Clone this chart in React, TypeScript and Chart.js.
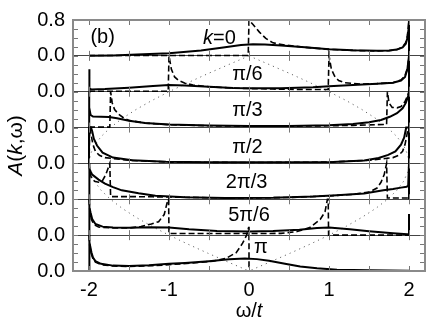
import React, { useEffect, useRef } from 'react';
import { Chart, registerables } from 'chart.js';

Chart.register(...registerables);

type P = [number, number];

const FAMILY = '"Liberation Sans", Arial, Helvetica, sans-serif';
const PANEL_NAMES = ['k=0', 'π/6', 'π/3', 'π/2', '2π/3', '5π/6', 'π'];
const PANEL_HEIGHT = 0.8;
const X_TICKS = [-2, -1, 0, 1, 2];
const Y_TOP_LABEL = '0.8';
const Y_BASE_LABEL = '0.0';
const X_MIN = -2.2;
const X_MAX = 2.2;

// label positions inside each panel: [omega, A]
const LABEL_POS: P[] = [[-0.37, 0.38], [-0.02, 0.385], [-0.02, 0.39], [-0.02, 0.36], [-0.03, 0.385], [0, 0.43], [0.15, 0.52]];

// k = 0
const k0Solid: P[] = [[-2, 0], [-1.7, 0.01], [-1.4, 0.03], [-1, 0.06], [-0.6, 0.12], [-0.3, 0.19], [-0.1, 0.24], [0.05, 0.26], [0.2, 0.255], [0.4, 0.23], [0.7, 0.19], [1, 0.15], [1.3, 0.125], [1.6, 0.115], [1.75, 0.12], [1.85, 0.14], [1.92, 0.19], [1.96, 0.27], [1.98, 0.4], [1.995, 0.6], [2, 0.8], [2, 0]];
const k0Dashed: P[] = [[-2, 0.008], [-1, 0.008], [-0.01, 0.008], [0, 0.8], [0.05, 0.7], [0.13, 0.53], [0.21, 0.39], [0.3, 0.29], [0.45, 0.24], [0.7, 0.19], [1, 0.145], [1.3, 0.12], [1.6, 0.11], [1.75, 0.115], [1.85, 0.14], [1.92, 0.2], [1.96, 0.3], [1.98, 0.45], [2, 0.8]];

// k = pi/6
const k1Solid: P[] = [[-2, 0], [-2, 0.5], [-1.99, 0.07], [-1.97, 0.05], [-1.8, 0.06], [-1.5, 0.09], [-1.2, 0.13], [-1, 0.15], [-0.8, 0.14], [-0.5, 0.11], [-0.2, 0.085], [0, 0.08], [0.4, 0.08], [0.8, 0.1], [1, 0.12], [1.3, 0.15], [1.6, 0.18], [1.8, 0.2], [1.9, 0.25], [1.95, 0.33], [1.98, 0.5], [2, 0.8], [2, 0]];
const k1Dashed: P[] = [[-2, 0.01], [-1.01, 0.01], [-1, 0.8], [-0.97, 0.5], [-0.93, 0.33], [-0.88, 0.25], [-0.8, 0.19], [-0.7, 0.15], [-0.5, 0.11], [-0.2, 0.08], [0, 0.07], [0.3, 0.06], [0.6, 0.05], [0.99, 0.05], [1, 0.8], [1.03, 0.5], [1.07, 0.35], [1.12, 0.25], [1.2, 0.2], [1.4, 0.17], [1.6, 0.18], [1.8, 0.2], [1.9, 0.26], [1.95, 0.36], [1.98, 0.52], [2, 0.8]];

// k = pi/3
const k2Solid: P[] = [[-2, 0], [-2, 0.8], [-1.995, 0.45], [-1.98, 0.28], [-1.95, 0.245], [-1.85, 0.24], [-1.75, 0.235], [-1.65, 0.21], [-1.5, 0.15], [-1.3, 0.1], [-1, 0.07], [-0.5, 0.045], [0, 0.035], [0.5, 0.035], [1, 0.05], [1.3, 0.08], [1.5, 0.12], [1.65, 0.17], [1.76, 0.24], [1.85, 0.32], [1.92, 0.43], [1.96, 0.55], [1.99, 0.7], [2, 0.8], [2, 0]];
const k2Dashed: P[] = [[-2, 0.01], [-1.74, 0.01], [-1.73, 0.8], [-1.71, 0.55], [-1.68, 0.4], [-1.63, 0.3], [-1.57, 0.22], [-1.5, 0.16], [-1.3, 0.1], [-1, 0.065], [-0.5, 0.04], [0, 0.03], [0.5, 0.03], [1, 0.04], [1.3, 0.05], [1.5, 0.06], [1.72, 0.07], [1.73, 0.8], [1.75, 0.55], [1.79, 0.45], [1.85, 0.44], [1.9, 0.47], [1.95, 0.58], [1.98, 0.7], [2, 0.8]];

// k = pi/2
const k3Solid: P[] = [[-2, 0], [-2, 0.8], [-1.975, 0.8], [-1.96, 0.72], [-1.94, 0.55], [-1.9, 0.4], [-1.83, 0.24], [-1.7, 0.13], [-1.46, 0.07], [-1.04, 0.035], [-0.5, 0.025], [0, 0.025], [0.5, 0.025], [1.05, 0.03], [1.44, 0.065], [1.62, 0.12], [1.74, 0.19], [1.83, 0.27], [1.9, 0.42], [1.94, 0.58], [1.965, 0.8], [2, 0.8], [2, 0]];
const k3Dashed: P[] = [[-2, 0], [-1.99, 0.8], [-1.97, 0.6], [-1.95, 0.42], [-1.92, 0.27], [-1.87, 0.18], [-1.8, 0.13], [-1.7, 0.11], [-1.5, 0.07], [-1, 0.03], [0, 0.02], [1, 0.03], [1.5, 0.07], [1.7, 0.11], [1.8, 0.13], [1.87, 0.18], [1.92, 0.27], [1.95, 0.42], [1.97, 0.6], [1.99, 0.8]];

// k = 2pi/3
const k4Solid: P[] = [[-2, 0], [-2, 0.8], [-1.99, 0.68], [-1.98, 0.62], [-1.96, 0.55], [-1.88, 0.44], [-1.8, 0.35], [-1.7, 0.27], [-1.59, 0.2], [-1.38, 0.135], [-1.17, 0.08], [-0.8, 0.045], [-0.3, 0.03], [0.3, 0.035], [0.8, 0.06], [1.1, 0.09], [1.44, 0.13], [1.68, 0.2], [1.8, 0.23], [1.9, 0.26], [1.97, 0.28], [1.99, 0.3], [2, 0.8], [2, 0]];
const k4Dashed: P[] = [[-2, 0.8], [-1.99, 0.6], [-1.97, 0.48], [-1.93, 0.4], [-1.88, 0.38], [-1.83, 0.42], [-1.79, 0.55], [-1.76, 0.7], [-1.74, 0.8], [-1.73, 0.06], [-1.5, 0.06], [-1.2, 0.055], [-0.95, 0.05], [-0.5, 0.035], [0, 0.03], [0.5, 0.04], [1, 0.075], [1.3, 0.11], [1.5, 0.16], [1.6, 0.25], [1.65, 0.38], [1.69, 0.55], [1.72, 0.8], [1.73, 0.03], [2, 0.03]];

// k = 5pi/6
const k5Solid: P[] = [[-2, 0], [-2, 0.8], [-1.99, 0.62], [-1.98, 0.5], [-1.96, 0.36], [-1.92, 0.25], [-1.83, 0.19], [-1.7, 0.17], [-1.5, 0.165], [-1.25, 0.175], [-1, 0.17], [-0.75, 0.13], [-0.4, 0.095], [0, 0.08], [0.3, 0.09], [0.63, 0.12], [0.85, 0.16], [1, 0.17], [1.26, 0.13], [1.5, 0.085], [1.8, 0.04], [1.98, 0.02], [2, 0.02], [2, 0.47], [2, 0]];
const k5Dashed: P[] = [[-2, 0.8], [-1.99, 0.55], [-1.97, 0.35], [-1.94, 0.24], [-1.88, 0.18], [-1.7, 0.16], [-1.5, 0.16], [-1.35, 0.19], [-1.22, 0.25], [-1.13, 0.3], [-1.06, 0.46], [-1.02, 0.75], [-1.005, 0.8], [-1, 0.035], [-0.5, 0.035], [0, 0.035], [0.4, 0.04], [0.6, 0.08], [0.76, 0.17], [0.89, 0.35], [0.95, 0.52], [0.98, 0.8], [0.99, 0.8], [0.995, 0], [2, 0]];

// k = pi
const k6Solid: P[] = [[-2, 0], [-2, 0.8], [-1.99, 0.64], [-1.97, 0.42], [-1.95, 0.3], [-1.92, 0.22], [-1.85, 0.16], [-1.7, 0.12], [-1.5, 0.11], [-1.25, 0.13], [-1, 0.16], [-0.8, 0.18], [-0.5, 0.22], [-0.25, 0.26], [-0.05, 0.28], [0.1, 0.265], [0.25, 0.23], [0.45, 0.16], [0.64, 0.1], [0.85, 0.06], [1.1, 0.03], [1.5, 0.015], [2, 0.005]];
const k6Dashed: P[] = [[-2, 0.8], [-1.99, 0.55], [-1.97, 0.38], [-1.95, 0.27], [-1.92, 0.2], [-1.85, 0.14], [-1.7, 0.11], [-1.5, 0.1], [-1.2, 0.12], [-1, 0.14], [-0.7, 0.18], [-0.45, 0.22], [-0.29, 0.28], [-0.16, 0.41], [-0.08, 0.62], [-0.03, 0.8], [-0.005, 0.97], [0, 0.97], [0, 0], [2, 0]];

const SOLIDS = [k0Solid, k1Solid, k2Solid, k3Solid, k4Solid, k5Solid, k6Solid];
const DASHEDS = [k0Dashed, k1Dashed, k2Dashed, k3Dashed, k4Dashed, k5Dashed, k6Dashed];

// dispersion guide (dotted): |omega| and global height
const DOT_W = [0, 0.261, 0.518, 0.765, 1.0, 1.218, 1.414, 1.587, 1.732, 1.848, 1.932, 1.983, 2.0, 1.983, 1.932, 1.848, 1.732, 1.587, 1.414, 1.218, 1.0, 0.765, 0.518, 0.261, 0];
const DOT_Y = [4.8, 4.6, 4.4, 4.2, 4.0, 3.8, 3.6, 3.4, 3.2, 3.0, 2.8, 2.6, 2.4, 2.2, 2.0, 1.8, 1.6, 1.4, 1.2, 1.0, 0.8, 0.6, 0.4, 0.2, 0];

type Seg = { t: string; i?: boolean };

function drawRich(ctx: CanvasRenderingContext2D, segs: Seg[], x: number, y: number, size: number) {
  let total = 0;
  const widths = segs.map((s) => {
    ctx.font = `${s.i ? 'italic ' : ''}${size}px ${FAMILY}`;
    const w = ctx.measureText(s.t).width;
    total += w;
    return w;
  });
  let cx = x - total / 2;
  ctx.textAlign = 'left';
  ctx.textBaseline = 'middle';
  segs.forEach((s, j) => {
    ctx.font = `${s.i ? 'italic ' : ''}${size}px ${FAMILY}`;
    ctx.fillText(s.t, cx, y);
    cx += widths[j];
  });
}

const NP = PANEL_NAMES.length;
const offsetOf = (i: number) => (NP - 1 - i) * PANEL_HEIGHT;
const TOTAL_MAX = NP * PANEL_HEIGHT;

export default function App() {
  const ref = useRef<HTMLCanvasElement | null>(null);
  useEffect(() => {
    if (!ref.current) return;
    const datasets: any[] = [];
    SOLIDS.forEach((arr, i) => {
      datasets.push({
        data: arr.map(([w, a]) => ({ x: w, y: a + offsetOf(i) })),
        borderColor: '#000', borderWidth: 2, order: 0, pointRadius: 0, fill: false,
      });
    });
    DASHEDS.forEach((arr, i) => {
      datasets.push({
        data: arr.map(([w, a]) => ({ x: w, y: a + offsetOf(i) })),
        borderColor: '#000', borderWidth: 1.6, borderDash: [6, 3], order: 1, pointRadius: 0, fill: false,
      });
    });
    [-1, 1].forEach((sgn) => {
      datasets.push({
        data: DOT_W.map((w, j) => ({ x: sgn * w, y: DOT_Y[j] })),
        borderColor: '#666', borderWidth: 1, borderDash: [1.2, 4], order: 2, pointRadius: 0, fill: false,
      });
    });

    const decor = {
      id: 'decor',
      afterDraw(chart: any) {
        const ctx: CanvasRenderingContext2D = chart.ctx;
        const { left, right, top, bottom } = chart.chartArea;
        const xs = chart.scales.x;
        const ys = chart.scales.y;
        ctx.save();
        ctx.strokeStyle = '#777';
        ctx.lineWidth = 1;
        ctx.beginPath();
        for (let k = 0; k <= NP * 4; k++) {
          const py = Math.round(ys.getPixelForValue(k * 0.2)) + 0.5;
          ctx.moveTo(left, py); ctx.lineTo(left + 5, py);
          ctx.moveTo(right - 5, py); ctx.lineTo(right, py);
        }
        for (let b = 0; b <= NP; b++) {
          const py = ys.getPixelForValue(b * PANEL_HEIGHT);
          for (let j = 0; j <= 8; j++) {
            const px = Math.round(xs.getPixelForValue(-2 + j * 0.5)) + 0.5;
            if (b < NP) { ctx.moveTo(px, py); ctx.lineTo(px, py - 5); }
            if (b > 0) { ctx.moveTo(px, py); ctx.lineTo(px, py + 5); }
          }
        }
        ctx.stroke();
        ctx.strokeStyle = '#8a8a8a';
        ctx.lineWidth = 2;
        ctx.strokeRect(left, top, right - left, bottom - top);
        ctx.fillStyle = '#000';
        PANEL_NAMES.forEach((name, i) => {
          const [w, a] = LABEL_POS[i];
          const segs: Seg[] = name === 'k=0' ? [{ t: 'k', i: true }, { t: '=0' }] : [{ t: name }];
          drawRich(ctx, segs, xs.getPixelForValue(w), ys.getPixelForValue(a + offsetOf(i)), 20);
        });
        drawRich(ctx, [{ t: '(b)' }], xs.getPixelForValue(-1.83), ys.getPixelForValue(0.4 + offsetOf(0)), 20);
        drawRich(ctx, [{ t: 'ω/' }, { t: 't', i: true }], xs.getPixelForValue(0), 311, 20);
        ctx.save();
        ctx.translate(16, (top + bottom) / 2);
        ctx.rotate(-Math.PI / 2);
        drawRich(ctx, [{ t: 'A', i: true }, { t: '(' }, { t: 'k', i: true }, { t: ',ω)' }], 0, 0, 21);
        ctx.restore();
        ctx.restore();
      },
    };

    const chart = new Chart(ref.current, {
      type: 'line',
      data: { datasets },
      options: {
        responsive: false,
        animation: false,
        layout: { padding: { top: 9, right: 11, left: 0, bottom: 0 } },
        plugins: { legend: { display: false }, tooltip: { enabled: false } },
        elements: { point: { radius: 0 }, line: { tension: 0 } },
        scales: {
          x: {
            type: 'linear', min: X_MIN, max: X_MAX,
            afterBuildTicks: (s: any) => { s.ticks = X_TICKS.map((v) => ({ value: v })); },
            afterFit: (s: any) => { s.height = 61; },
            ticks: { color: '#000', padding: 7, font: { family: FAMILY, size: 20 }, callback: (v: any) => String(v), maxRotation: 0, autoSkip: false },
            grid: { display: false, drawTicks: false },
            border: { display: false },
          },
          y: {
            type: 'linear', min: 0, max: TOTAL_MAX,
            afterBuildTicks: (s: any) => {
              const t: any[] = [];
              for (let i = 0; i <= NP; i++) t.push({ value: i * PANEL_HEIGHT });
              s.ticks = t;
            },
            afterFit: (s: any) => { s.width = 73; },
            ticks: {
              color: '#000', padding: 8, font: { family: FAMILY, size: 20 }, autoSkip: false,
              callback: (v: any) => (Math.abs(Number(v) - TOTAL_MAX) < 1e-6 ? Y_TOP_LABEL : Y_BASE_LABEL),
            },
            grid: { drawTicks: false, color: '#444', lineWidth: 1 },
            border: { display: false },
          },
        },
      },
      plugins: [decor],
    } as any);
    return () => chart.destroy();
  }, []);
  return (
    <div style={{ position: 'absolute', left: 0, top: 0, width: 436, height: 332, background: '#fff' }}>
      <canvas ref={ref} width={436} height={332} />
    </div>
  );
}
